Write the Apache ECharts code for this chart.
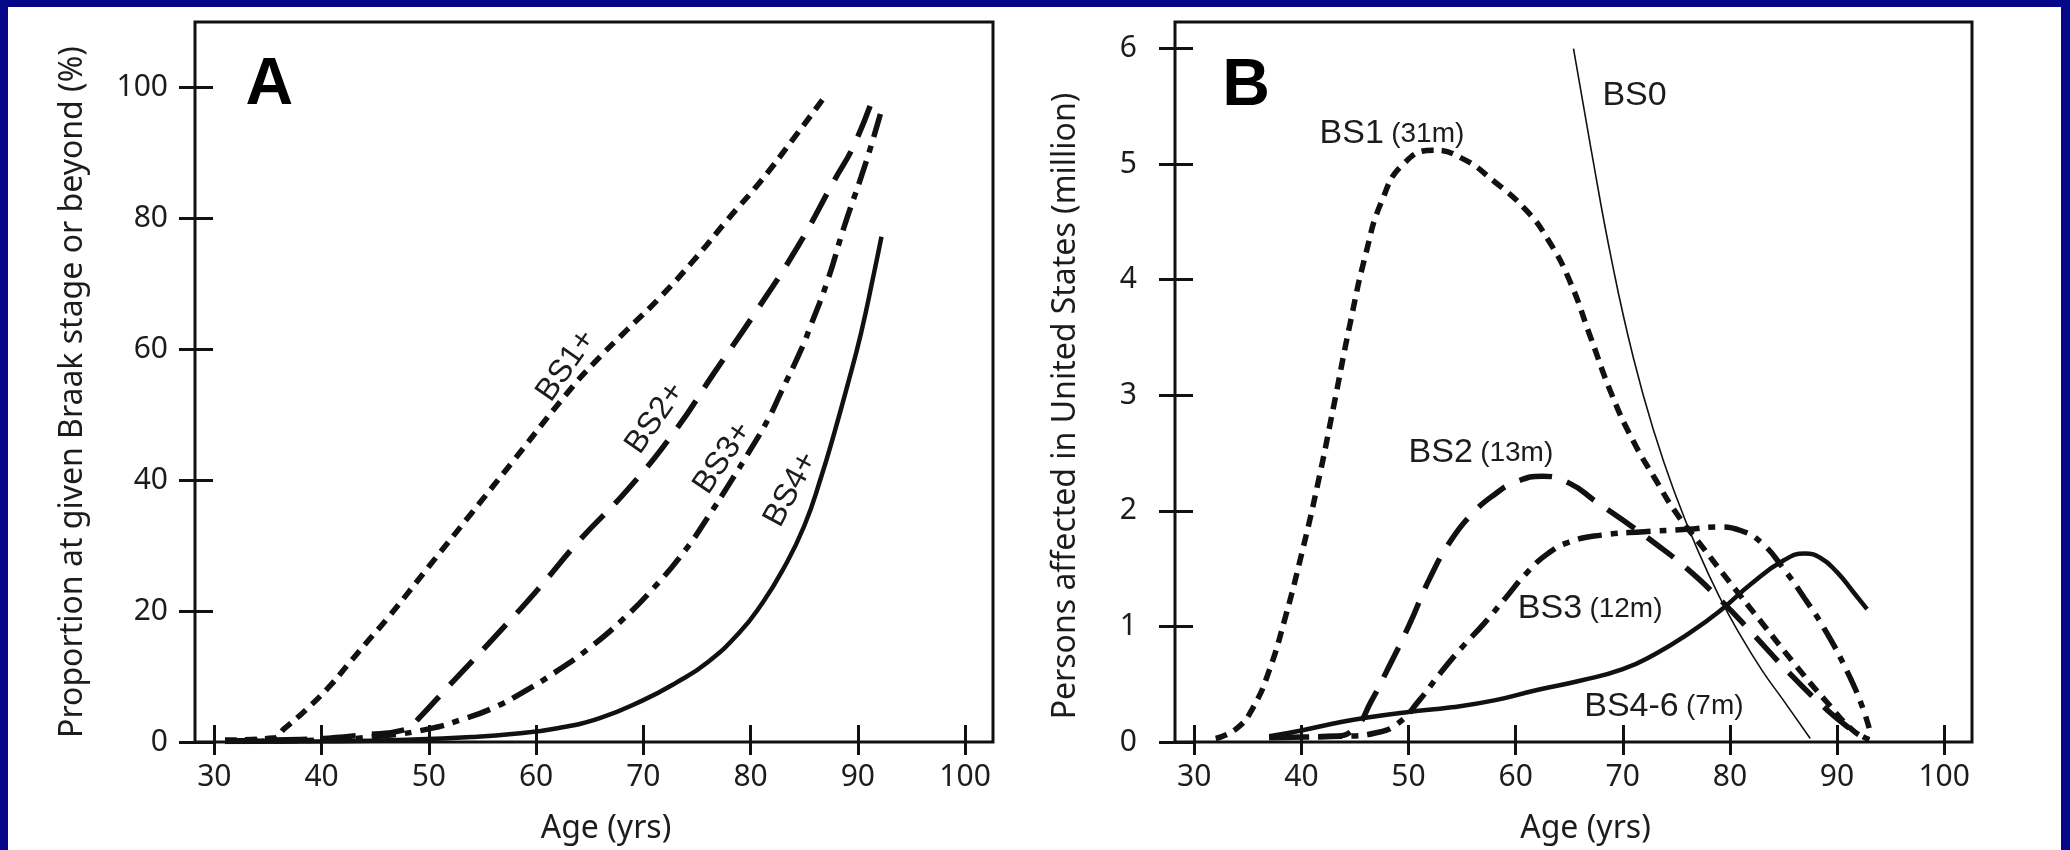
<!DOCTYPE html>
<html>
<head>
<meta charset="utf-8">
<script src="https://cdn.jsdelivr.net/npm/echarts@6/dist/echarts.min.js"></script>
<style>
  html, body { margin: 0; padding: 0; background: #06068a; }
  #paper { position: absolute; left: 8px; top: 7px; width: 2053px; height: 843px; background: #fff; }
  #chart { position: absolute; left: 0; top: 0; width: 2070px; height: 850px; }
</style>
</head>
<body>
<div id="paper"></div>
<div id="chart"></div>
<script>
// tick values
const ageTicks = [30, 40, 50, 60, 70, 80, 90, 100];
const pctTicks = [0, 20, 40, 60, 80, 100];
const millionTicks = [0, 1, 2, 3, 4, 5, 6];

// Panel A: proportion at given Braak stage or beyond (%), [age, %]
const bs1PlusA = [[31,0.3],[35.5,0.6],[36.5,2],[38.6,5],[40.8,8.6],[42.4,11.7],[44.2,15.2],[46.1,18.8],[50,26.8],[54,35],[58,43.2],[62.9,53.3],[65.4,57.9],[68.5,63],[71.6,68],[74.7,73.6],[77.8,79.7],[81,85.8],[84.1,92.4],[87,98.8]];
const bs2PlusA = [[31,0.2],[38,0.4],[44,1.1],[48,2],[49,3.5],[52,8.8],[56,15.8],[60,23],[64.1,30.9],[68.5,38.5],[72.9,47.4],[76.6,56.4],[80.6,66],[84.4,75.7],[87.8,85.8],[89.7,91.4],[91.6,99.3]];
const bs3PlusA = [[31,0.1],[40,0.3],[46,1],[50,2],[53,3.4],[56,5.2],[59,7.8],[62,10.9],[65,14.4],[68,18.6],[71,23.6],[74,29.5],[76,34.3],[78,39.4],[80,44.7],[81.6,49.2],[82.8,53.3],[84.7,59.9],[85.6,63.6],[87.2,70.6],[88.7,78.6],[90.3,86.3],[91.2,90.9],[92.2,96.5]];
const bs4PlusA = [[31,0],[40,0.1],[48,0.35],[54,0.75],[58,1.25],[62,2.1],[66,3.7],[70,6.4],[73,9],[76,12.2],[79,16.8],[81,21],[83,26.3],[85,33],[86.6,40.6],[87.8,47.2],[89,54.3],[90.3,62.5],[91.5,71.6],[92.2,77.2]];

// Panel B: persons affected in United States (million), [age, million]
const bs0B = [[65.4,6.0],[67,5.15],[69,4.15],[71,3.32],[73,2.66],[75,2.12],[77,1.66],[79,1.26],[81,0.92],[83,0.62],[85,0.36],[87.5,0.03]];
const bs1B = [[32,0.03],[34,0.12],[35.5,0.3],[37,0.62],[38.5,1.08],[40,1.62],[41.5,2.22],[43,2.9],[44.5,3.6],[46,4.22],[47.5,4.68],[49.5,5.0],[52.3,5.12],[55,5.05],[58,4.85],[61,4.6],[63,4.35],[65,4.0],[67,3.5],[69,3.0],[71,2.6],[73,2.28],[75,1.98],[77.5,1.68],[80,1.38],[83,1.03],[86,0.68],[89,0.35],[91.5,0.1],[93,0.02]];
const bs2B = [[37,0.04],[43,0.05],[45,0.12],[46.5,0.35],[48,0.62],[50,1.0],[52,1.42],[54,1.75],[56,1.98],[58,2.14],[60,2.25],[62.5,2.3],[65,2.24],[67.5,2.08],[70,1.92],[73,1.72],[76,1.5],[79,1.24],[82,0.95],[85,0.65],[88,0.37],[91,0.13],[93,0.02]];
const bs3B = [[37,0.04],[44,0.05],[47,0.08],[49,0.16],[51,0.36],[53,0.6],[55,0.82],[57,1.02],[59,1.24],[61,1.46],[63,1.63],[65,1.73],[68,1.79],[72,1.82],[76,1.84],[79,1.86],[81,1.83],[83,1.72],[85,1.5],[87,1.24],[89,0.95],[91,0.6],[92.3,0.32],[93,0.12]];
const bs46B = [[37,0.05],[40,0.1],[43,0.16],[46,0.21],[50,0.26],[54,0.3],[58,0.36],[62,0.45],[66,0.53],[70,0.63],[73,0.76],[76,0.93],[79,1.13],[82,1.37],[85,1.57],[87,1.63],[88.5,1.59],[90,1.47],[91.5,1.3],[92.8,1.15]];

// curve labels: [text, age, value]
const labelsA = [['BS1+', 62.8, 57.5], ['BS2+', 71.1, 49.5], ['BS3+', 77.4, 43.4], ['BS4+', 83.75, 38.6]];
const labelTiltA = [55, 55, 56, 62];
const labelsB = [['BS1', '(31m)', 41.7, 5.26], ['BS2', '(13m)', 50.0, 2.50], ['BS3', '(12m)', 60.2, 1.15], ['BS4-6', '(7m)', 66.4, 0.31], ['BS0', '', 68.1, 5.59]];
const panelTags = [['A', 32.9, 100.2], ['B', 32.6, 5.67]];

const INK = '#111';
const TXT = '#1c1c1c';
const TICK_FONT = '"Noto Sans", "Open Sans", sans-serif';
const LBL_FONT = '"Liberation Sans", Arial, sans-serif';
const X_MIN = 28.2, X_MAX = 102.6;

const SHORT = [12, 8];
const LONG = [33, 16];
const DASHDOT = [24, 9, 7, 9];

const chart = echarts.init(document.getElementById('chart'));

function xAxes(g) {
    return [
        {
            type: 'value', gridIndex: g, min: X_MIN, max: X_MAX, position: 'bottom',
            axisLine: { show: false }, splitLine: { show: false },
            axisTick: { show: true, inside: false, length: 13, customValues: ageTicks, lineStyle: { color: INK, width: 3 } },
            axisLabel: { customValues: ageTicks, margin: 20, fontFamily: TICK_FONT, fontSize: 30, color: TXT },
            name: 'Age (yrs)', nameLocation: 'middle', nameGap: 71,
            nameTextStyle: { fontFamily: TICK_FONT, fontSize: 32, color: TXT, padding: [0, 0, 0, 24] }
        },
        {
            type: 'value', gridIndex: g, min: X_MIN, max: X_MAX, position: 'bottom',
            axisLine: { show: false }, splitLine: { show: false },
            axisTick: { show: true, inside: true, length: 17, customValues: ageTicks, lineStyle: { color: INK, width: 3 } },
            axisLabel: { show: false }
        }
    ];
}

function yAxes(g, max, ticks, name, labelMargin, nameGap, namePad) {
    return [
        {
            type: 'value', gridIndex: g, min: 0, max: max, position: 'left',
            axisLine: { show: false }, splitLine: { show: false },
            axisTick: { show: true, inside: false, length: 16, customValues: ticks, lineStyle: { color: INK, width: 3 } },
            axisLabel: { customValues: ticks, margin: labelMargin, fontFamily: TICK_FONT, fontSize: 30, color: TXT },
            name: name, nameLocation: 'middle', nameGap: nameGap, nameRotate: 90,
            nameTextStyle: { fontFamily: TICK_FONT, fontSize: 32, color: TXT, padding: namePad }
        },
        {
            type: 'value', gridIndex: g, min: 0, max: max, position: 'left',
            axisLine: { show: false }, splitLine: { show: false },
            axisTick: { show: true, inside: true, length: 18, customValues: ticks, lineStyle: { color: INK, width: 3 } },
            axisLabel: { show: false }
        }
    ];
}

function curve(g, data, dash, width) {
    return {
        type: 'line', xAxisIndex: g * 2, yAxisIndex: g * 2, data: data,
        smooth: 0.5, symbol: 'none', silent: true,
        lineStyle: { color: INK, width: width, type: dash, cap: 'butt' }
    };
}

function tagSeries(g, tag) {
    return {
        type: 'scatter', xAxisIndex: g * 2, yAxisIndex: g * 2, symbolSize: 0, silent: true,
        itemStyle: { opacity: 1 },
        data: [[tag[1], tag[2]]],
        label: {
            show: true, position: 'right', distance: 0, formatter: tag[0], opacity: 1,
            fontFamily: LBL_FONT, fontWeight: 'bold', fontSize: 66, color: '#000'
        }
    };
}

const option = {
    animation: false,
    grid: [
        { left: 195, top: 22, width: 798, height: 721, show: true, borderColor: INK, borderWidth: 3, backgroundColor: 'transparent' },
        { left: 1175, top: 22, width: 797, height: 721, show: true, borderColor: INK, borderWidth: 3, backgroundColor: 'transparent' }
    ],
    xAxis: [...xAxes(0), ...xAxes(1)],
    yAxis: [
        ...yAxes(0, 110, pctTicks, 'Proportion at given Braak stage or beyond (%)', 27, 106, [0, 20, 0, 0]),
        ...yAxes(1, 6.23, millionTicks, 'Persons affected in United States (million)', 38, 93, [0, 48, 0, 0])
    ],
    series: [
        curve(0, bs1PlusA, SHORT, 5.5),
        curve(0, bs2PlusA, LONG, 5.5),
        curve(0, bs3PlusA, DASHDOT, 5.5),
        curve(0, bs4PlusA, 'solid', 4.5),
        {
            type: 'scatter', xAxisIndex: 0, yAxisIndex: 0, symbolSize: 0, silent: true,
            itemStyle: { opacity: 1 },
            data: labelsA.map((l, i) => ({ value: [l[1], l[2]], name: l[0], label: { rotate: labelTiltA[i] } })),
            label: {
                show: true, position: 'inside', formatter: '{b}', opacity: 1,
                fontFamily: LBL_FONT, fontSize: 32, color: TXT
            }
        },
        tagSeries(0, panelTags[0]),

        curve(1, bs0B, 'solid', 1.6),
        curve(1, bs1B, SHORT, 5.5),
        curve(1, bs2B, LONG, 5.5),
        curve(1, bs3B, DASHDOT, 5.5),
        curve(1, bs46B, 'solid', 4.5),
        {
            type: 'scatter', xAxisIndex: 2, yAxisIndex: 2, symbolSize: 0, silent: true,
            itemStyle: { opacity: 1 },
            data: labelsB.map(l => ({ value: [l[2], l[3]], name: l[0], note: l[1] })),
            label: {
                show: true, position: 'right', distance: 0, opacity: 1,
                formatter: p => p.data.note ? '{big|' + p.data.name + '} {small|' + p.data.note + '}' : '{big|' + p.data.name + '}',
                rich: {
                    big: { fontFamily: LBL_FONT, fontSize: 34, color: TXT },
                    small: { fontFamily: LBL_FONT, fontSize: 28, color: TXT, padding: [0, 0, 0, 4] }
                }
            }
        },
        tagSeries(1, panelTags[1])
    ]
};
chart.setOption(option);
</script>
</body>
</html>
